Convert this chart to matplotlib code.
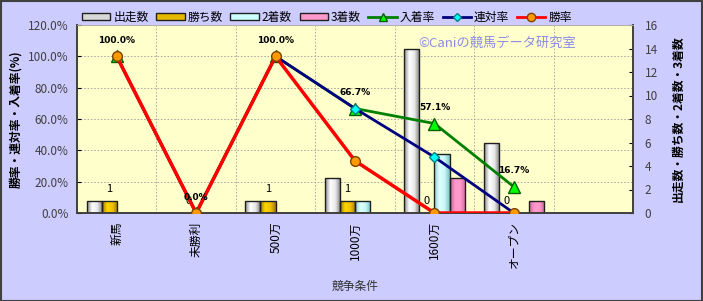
import numpy as np
import matplotlib
matplotlib.use("Agg")
import matplotlib.pyplot as plt
from matplotlib.colors import LinearSegmentedColormap
from matplotlib.patches import Patch, Rectangle
from matplotlib.lines import Line2D

plt.rcParams['font.family'] = ['Noto Sans CJK JP', 'DejaVu Sans']

# ---- data ----
categories = ['新馬', '未勝利', '500万', '1000万', '1600万', 'オープン', '']
runs    = [1, 0, 1, 3, 14, 6, 0]      # 出走数
wins    = [1, 0, 1, 1, 0, 0, 0]       # 勝ち数
seconds = [0, 0, 0, 1, 5, 0, 0]       # 2着数
thirds  = [0, 0, 0, 0, 3, 1, 0]       # 3着数
win_rate   = [100.0, 0.0, 100.0, 33.3, 0.0, 0.0]    # 勝率
place_rate = [100.0, 0.0, 100.0, 66.7, 35.7, 0.0]   # 連対率
show_rate  = [100.0, 0.0, 100.0, 66.7, 57.1, 16.7]  # 入着率
show_labels = ['100.0%', '0.0%', '100.0%', '66.7%', '57.1%', '16.7%']
win_labels = ['1', '0', '1', '1', '0', '0']
pct_ticks = [0, 20, 40, 60, 80, 100, 120]
count_ticks = [0, 2, 4, 6, 8, 10, 12, 14, 16]

W, H = 703, 301
fig = plt.figure(figsize=(W / 100, H / 100), dpi=100)
fig.patch.set_facecolor('#CCCCFF')
fig.patches.append(Rectangle((0.5 / W, 0.5 / H), 1 - 1.5 / W, 1 - 1.5 / H,
                             transform=fig.transFigure, fill=False,
                             edgecolor='#404040', linewidth=1.5, zorder=10))

L, R, T, B = 77, 633, 25, 213
ax = fig.add_axes([L / W, 1 - B / H, (R - L) / W, (B - T) / H])
ax.set_facecolor('#FFFFCC')
axl = ax.twinx()
axl.patch.set_visible(False)

x = np.arange(len(categories))
bw = 0.19
offs = [-1.5 * bw, -0.5 * bw, 0.5 * bw, 1.5 * bw]
series = [runs, wins, seconds, thirds]
grads = [
    ['#8a8a8a', '#ffffff', '#e8e8e8', '#7a7a7a'],
    ['#a07800', '#ffd700', '#f0c000', '#a07800'],
    ['#88cccc', '#e0ffff', '#c8f8f8', '#80c0c0'],
    ['#cc6699', '#ff99cc', '#ff99cc', '#cc6699'],
]
solid = ['#d8d8d8', '#e6b800', '#ccffff', '#ff99cc']

for s, o, g in zip(series, offs, grads):
    cmap = LinearSegmentedColormap.from_list('g', g)
    bars = ax.bar(x + o, s, width=bw, facecolor='none', edgecolor='#202020',
                  linewidth=1.0, zorder=3)
    for rect, v in zip(bars, s):
        if v <= 0:
            rect.set_visible(False)
            continue
        x0, w = rect.get_x(), rect.get_width()
        im = ax.imshow(np.linspace(0, 1, 64).reshape(1, -1), cmap=cmap,
                       extent=[x0, x0 + w, 0, v], aspect='auto', origin='lower',
                       interpolation='bilinear', zorder=2.5)
        im.set_clip_path(rect)

# win count labels
for xi, v, lab in zip(x, wins, win_labels):
    ax.annotate(lab, (xi + offs[1], v), xytext=(0, 9), textcoords='offset points',
                ha='center', va='center', fontsize=8, color='#000000', zorder=6)

ax.set_xlim(-0.5, len(categories) - 0.5)
ax.set_ylim(0, 16)
axl.set_ylim(0, 120)

# grid
for p in pct_ticks[1:-1]:
    ax.axhline(p * 16 / 120, color='#a0a0a0', linestyle=(0, (2, 2)), linewidth=0.6, zorder=1)
for b in np.arange(0.5, len(categories) - 1, 1.0):
    ax.axvline(b, color='#a0a0a0', linestyle=(0, (2, 2)), linewidth=0.6, zorder=1)

# lines
xl = x[:len(show_rate)]
axl.plot(xl, show_rate, color='#008000', linewidth=2, marker='^', markersize=8,
         markerfacecolor='#00ff00', markeredgecolor='#006000', zorder=4)
axl.plot(xl, place_rate, color='#000080', linewidth=2, marker='D', markersize=5,
         markerfacecolor='#00ffff', markeredgecolor='#008080', zorder=4)
axl.plot(xl, win_rate, color='#ff0000', linewidth=2.5, marker='o', markersize=7,
         markerfacecolor='#ff9900', markeredgecolor='#804000', zorder=5)

for xi, v, lab in zip(xl, show_rate, show_labels):
    axl.annotate(lab, (xi, v), xytext=(0, 11.5), textcoords='offset points',
                 ha='center', va='center', fontsize=6.5, fontweight='bold',
                 family='DejaVu Sans', color='#000000', zorder=6)

# axes formatting
ax.yaxis.tick_right()
ax.yaxis.set_label_position('right')
axl.yaxis.tick_left()
axl.yaxis.set_label_position('left')
ax.set_yticks(count_ticks)
ax.set_yticklabels([str(c) for c in count_ticks])
axl.set_yticks(pct_ticks)
axl.set_yticklabels([f'{p:.1f}%' for p in pct_ticks])
ax.set_xticks(x)
ax.set_xticklabels(categories, rotation=90, ha='center', va='top', fontsize=8.5)
ax.tick_params(axis='x', length=0, pad=6)
ax.tick_params(axis='y', direction='in', length=3, labelsize=8.5, labelcolor='#404040', pad=8.5)
axl.tick_params(axis='y', direction='in', length=3, labelsize=8.5, labelcolor='#404040', pad=6)

for a in (ax, axl):
    for sp in ('left', 'right', 'bottom'):
        a.spines[sp].set_color('#404040')
        a.spines[sp].set_linewidth(1.2)
    a.spines['top'].set_color('#b0b0b0')
    a.spines['top'].set_linewidth(0.6)

axl.set_ylabel('勝率・連対率・入着率(%)', fontsize=8.5, fontweight='bold', labelpad=4)
ax.set_ylabel('出走数・勝ち数・2着数・3着数', fontsize=8.5, fontweight='bold',
              rotation=90, labelpad=10)
ax.set_xlabel('競争条件', fontsize=8.5, color='#333333', labelpad=8)

ax.text(0.755, 0.904, '©Caniの競馬データ研究室', transform=ax.transAxes,
        fontsize=9.5, color='#8c8ce6', ha='center', va='center', zorder=6)

handles = [
    Patch(facecolor=solid[0], edgecolor='#202020'),
    Patch(facecolor=solid[1], edgecolor='#202020'),
    Patch(facecolor=solid[2], edgecolor='#202020'),
    Patch(facecolor=solid[3], edgecolor='#202020'),
    Line2D([], [], color='#008000', linewidth=2, marker='^', markersize=6,
           markerfacecolor='#00ff00', markeredgecolor='#006000'),
    Line2D([], [], color='#000080', linewidth=2, marker='D', markersize=4,
           markerfacecolor='#00ffff', markeredgecolor='#008080'),
    Line2D([], [], color='#ff0000', linewidth=2, marker='o', markersize=6,
           markerfacecolor='#ff9900', markeredgecolor='#804000'),
]
labels = ['出走数', '勝ち数', '2着数', '3着数', '入着率', '連対率', '勝率']
fig.legend(handles, labels, loc='center left', bbox_to_anchor=(82 / W, 1 - 17 / H),
           ncol=7, frameon=False, fontsize=8.5, handlelength=2.4, handleheight=0.5,
           handletextpad=0.25, columnspacing=0.65, borderpad=0, borderaxespad=0)

fig.savefig('out.png', dpi=100, facecolor=fig.get_facecolor())
